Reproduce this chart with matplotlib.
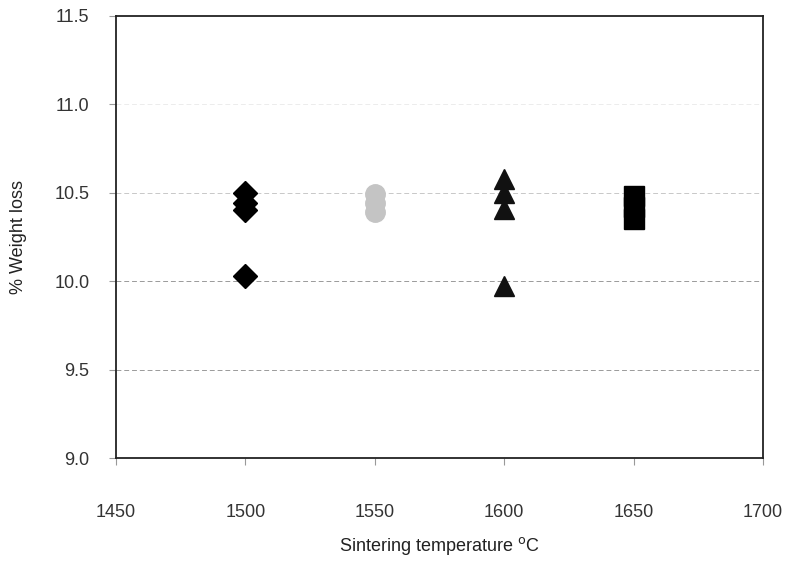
import matplotlib.pyplot as plt

plt.rcParams['font.family'] = ['Liberation Sans', 'DejaVu Sans']

# weight loss readings at each sintering temperature
t1500 = [1500, 1500, 1500, 1500]
w1500 = [10.50, 10.44, 10.40, 10.03]
t1550 = [1550, 1550, 1550]
w1550 = [10.49, 10.44, 10.39]
t1600 = [1600, 1600, 1600, 1600]
w1600 = [10.58, 10.50, 10.41, 9.97]
t1650 = [1650, 1650, 1650]
w1650 = [10.48, 10.42, 10.35]

xticks = [1450, 1500, 1550, 1600, 1650, 1700]
yticks = [9.0, 9.5, 10.0, 10.5, 11.0, 11.5]

fig = plt.figure(figsize=(7.89, 5.62), dpi=100)
ax = fig.add_axes([0.147, 0.185, 0.820, 0.787])

# scanned gridlines: lower ones show clearly, upper ones faded
grid_colors = {9.5: '#9a9a9a', 10.0: '#9a9a9a', 10.5: '#c8c8c8', 11.0: '#ececec'}
for y, c in grid_colors.items():
    ax.axhline(y, color=c, lw=0.7, ls=(0, (5, 3)), zorder=1)

ax.plot(t1500, w1500, 'D', color='black', ms=12, ls='none', zorder=3)
ax.plot(t1550, w1550, 'o', color='#c4c4c4', ms=14, ls='none', zorder=3)
ax.plot(t1600, w1600, '^', color='#111111', ms=14, ls='none', zorder=3)
ax.plot(t1650, w1650, 's', color='black', ms=14, ls='none', zorder=3)

ax.set_xlim(1450, 1700)
ax.set_ylim(9.0, 11.5)
ax.set_xticks(xticks)
ax.set_yticks(yticks)
ax.set_yticklabels([f"{v:.1f}" for v in yticks])

for s in ax.spines.values():
    s.set_linewidth(1.3)
    s.set_color('#222222')

ax.tick_params(axis='both', direction='out', length=5, width=0.8,
               colors='#999999', labelcolor='#333333', labelsize=13)
ax.tick_params(axis='x', pad=28)
ax.tick_params(axis='y', pad=14)

ax.set_xlabel("Sintering temperature $^{\\mathrm{o}}$C", fontsize=13,
              color='#222222', labelpad=10)
ax.set_ylabel("% Weight loss", fontsize=13, color='#222222', labelpad=20)

fig.savefig('out.png', dpi=100)
